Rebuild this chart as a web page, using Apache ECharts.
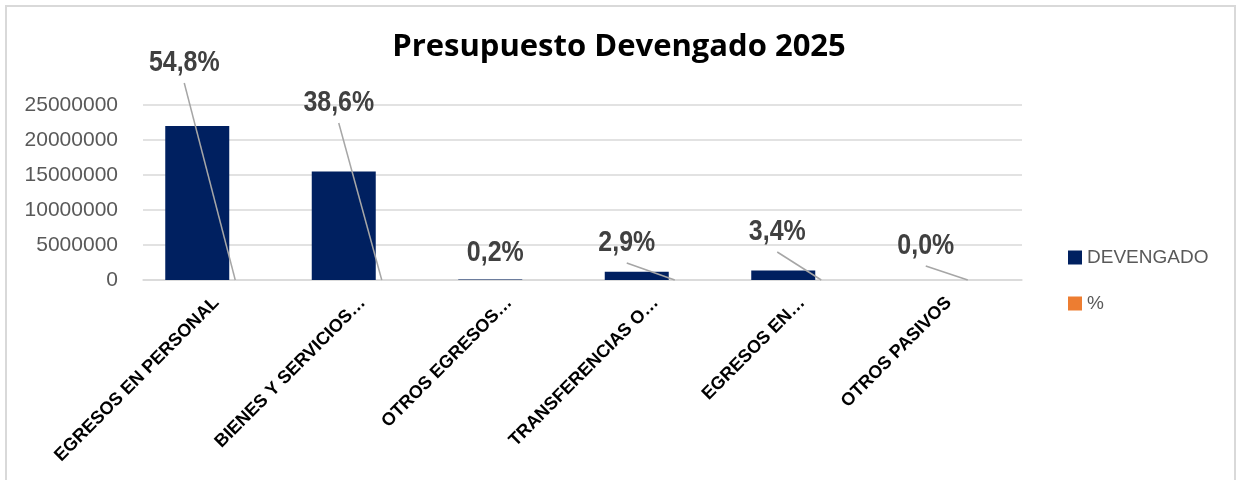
<!DOCTYPE html>
<html>
<head>
<meta charset="utf-8">
<script src="https://cdn.jsdelivr.net/npm/echarts@6/dist/echarts.min.js"></script>
<style>
html, body { margin: 0; padding: 0; background: #fff; }
#chart { width: 1238px; height: 480px; }
</style>
</head>
<body>
<div id="chart"></div>
<script>
// datos
var categorias = ['EGRESOS EN PERSONAL', 'BIENES Y SERVICIOS…', 'OTROS EGRESOS…', 'TRANSFERENCIAS O…', 'EGRESOS EN…', 'OTROS PASIVOS'];
var devengado = [22000000, 15500000, 80000, 1165000, 1365000, 8000];
var porcentaje = [0.548, 0.386, 0.002, 0.029, 0.034, 0.000];
var yMin = 0, yMax = 25000000, yStep = 5000000;

// etiquetas de % movidas a mano (desplazamiento respecto a la barra %)
var labelOffsets = [[-51, -217], [-43, -177], [-33, -27], [-48, -37], [-44, -48], [-42, -34]];
var showLeader = [true, true, false, true, true, true];

var BAR_W = 64, BAR_OVERLAP = 26;

var dom = document.getElementById('chart');
var myChart = echarts.init(dom);

function fmtPct(v) {
	return (v * 100).toFixed(1).replace('.', ',') + '%';
}

function renderPct(params, api) {
	var i = params.dataIndex;
	var base = api.coord([api.value(0), 0]);
	// centro de la barra % (segunda barra del grupo)
	var ax = base[0] - (2 * BAR_W - BAR_OVERLAP) / 2 + (BAR_W - BAR_OVERLAP) + BAR_W / 2;
	var ay = base[1];
	var lx = ax + labelOffsets[i][0];
	var ly = ay + labelOffsets[i][1];
	var children = [];
	if (showLeader[i]) {
		children.push({
			type: 'line',
			shape: { x1: lx, y1: ly + 20, x2: ax, y2: ay },
			style: { stroke: '#a6a6a6', lineWidth: 1.5 }
		});
	}
	// letra estrecha: Liberation Sans comprimida en horizontal
	children.push({
		type: 'text',
		x: lx,
		y: ly,
		scaleX: 0.86,
		style: {
			text: fmtPct(api.value(1)),
			fill: '#404040',
			font: 'bold 29px "Liberation Sans", Arial, sans-serif',
			align: 'center',
			verticalAlign: 'middle'
		}
	});
	return { type: 'group', children: children };
}

var option = {
	animation: false,
	title: {
		text: 'Presupuesto Devengado 2025',
		left: 'center',
		top: 27,
		textStyle: {
			fontFamily: '"Open Sans", sans-serif',
			fontWeight: 'bold',
			fontSize: 31,
			color: '#000'
		}
	},
	legend: {
		orient: 'vertical',
		left: 1063,
		top: 243,
		itemWidth: 14,
		itemHeight: 14,
		itemGap: 27,
		icon: 'rect',
		data: ['DEVENGADO', '%'],
		textStyle: {
			fontFamily: '"Liberation Sans", Arial, sans-serif',
			fontSize: 19,
			color: '#595959'
		}
	},
	grid: {
		left: 143,
		right: 216,
		top: 105,
		bottom: 200
	},
	xAxis: {
		type: 'category',
		data: categorias,
		axisLine: { lineStyle: { color: '#d9d9d9', width: 1.5 } },
		axisTick: { show: false },
		axisLabel: {
			interval: 0,
			rotate: 45,
			margin: 20,
			color: '#000',
			fontFamily: '"Liberation Sans", Arial, sans-serif',
			fontWeight: 'bold',
			fontSize: 18
		}
	},
	yAxis: {
		type: 'value',
		min: yMin,
		max: yMax,
		interval: yStep,
		axisLine: { show: false },
		axisTick: { show: false },
		splitLine: { lineStyle: { color: '#d9d9d9', width: 1.5 } },
		axisLabel: {
			margin: 25,
			color: '#595959',
			fontFamily: '"Liberation Sans", Arial, sans-serif',
			fontSize: 21,
			formatter: function (v) { return String(v); }
		}
	},
	graphic: [{
		type: 'rect',
		shape: { x: 6, y: 6, width: 1229, height: 500 },
		style: { fill: 'none', stroke: '#d9d9d9', lineWidth: 2 },
		silent: true
	}],
	series: [
		{
			name: 'DEVENGADO',
			type: 'bar',
			data: devengado,
			barWidth: BAR_W,
			barGap: (-BAR_OVERLAP / BAR_W * 100) + '%',
			itemStyle: { color: '#002060' }
		},
		{
			name: '%',
			type: 'bar',
			data: porcentaje,
			barWidth: BAR_W,
			barGap: (-BAR_OVERLAP / BAR_W * 100) + '%',
			silent: true,
			itemStyle: { color: '#ED7D31' }
		},
		{
			name: 'pctLabels',
			type: 'custom',
			silent: true,
			z: 5,
			data: porcentaje.map(function (p, i) { return [i, p]; }),
			renderItem: renderPct
		}
	]
};

myChart.setOption(option, true);
window.onresize = function () {
	myChart.resize();
};
</script>
</body>
</html>
